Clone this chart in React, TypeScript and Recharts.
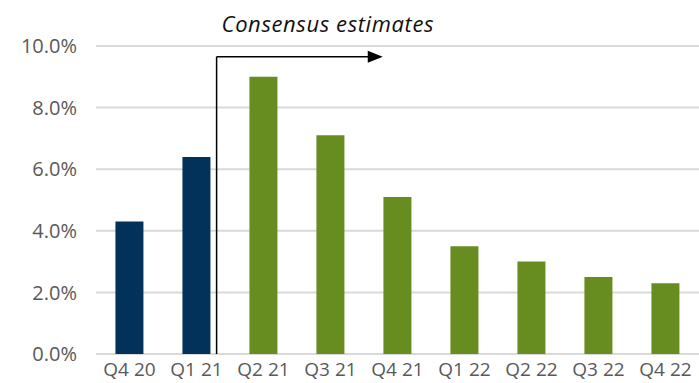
import { BarChart, Bar, Cell, XAxis, YAxis, CartesianGrid, ReferenceLine } from 'recharts'

const quarters = ['Q4 20', 'Q1 21', 'Q2 21', 'Q3 21', 'Q4 21', 'Q1 22', 'Q2 22', 'Q3 22', 'Q4 22']
const growth = [4.3, 6.4, 9.0, 7.1, 5.1, 3.5, 3.0, 2.5, 2.3]
const estimate = [false, false, true, true, true, true, true, true, true]
const yTicks = [0, 2, 4, 6, 8, 10]

const ACTUAL = '#02325a'
const EST = '#678c1f'
const FONT = '"Open Sans", sans-serif'

const data = quarters.map((q, i) => ({ q, pos: i, v: growth[i], est: estimate[i] }))

// arrow annotation, in category index units on a hidden numeric x axis
const splitX = 1.3
const arrowEndX = 3.78
const arrowY = 9.65

function ArrowShape(p: any) {
  const { x1, y1, x2, y2 } = p
  return (
    <g>
      <line x1={x1} y1={y1} x2={x2 - 12} y2={y2} stroke="#000" strokeWidth={1.5} />
      <polygon points={`${x2 - 15},${y2 - 6} ${x2},${y2} ${x2 - 15},${y2 + 6}`} fill="#000" />
      <text x={x1 + 5} y={y1 - 25} fontFamily={FONT} fontStyle="italic" fontSize={22} letterSpacing={0.6} fill="#111">
        Consensus estimates
      </text>
    </g>
  )
}

export default function App() {
  return (
    <div style={{ position: 'absolute', left: 0, top: 0, background: '#fff' }}>
      <BarChart width={699} height={383} data={data} margin={{ top: 46, right: 0, bottom: 0, left: 0 }} barCategoryGap="29%">
        <CartesianGrid vertical={false} stroke="#d9d9d9" strokeWidth={2} />
        <XAxis dataKey="q" axisLine={false} tickLine={false} tickSize={0} tickMargin={9} height={29} interval={0}
          tick={{ fill: '#595959', fontSize: 19, fontFamily: FONT }} />
        <XAxis xAxisId="n" dataKey="pos" type="number" domain={[-0.5, 8.5]} allowDataOverflow hide />
        <YAxis domain={[0, 10]} ticks={yTicks} width={96} axisLine={false} tickLine={false} tickSize={0} tickMargin={19}
          tickFormatter={(v: number) => v.toFixed(1) + '%'} tick={{ fill: '#595959', fontSize: 20, fontFamily: FONT }} />
        <Bar dataKey="v" isAnimationActive={false}>
          {data.map((d, i) => <Cell key={i} fill={d.est ? EST : ACTUAL} />)}
        </Bar>
        <ReferenceLine xAxisId="n" segment={[{ x: splitX, y: 0 }, { x: splitX, y: arrowY }]} stroke="#000" strokeWidth={1.5} ifOverflow="visible" />
        <ReferenceLine xAxisId="n" segment={[{ x: splitX, y: arrowY }, { x: arrowEndX, y: arrowY }]} ifOverflow="visible" shape={ArrowShape} />
      </BarChart>
    </div>
  )
}
